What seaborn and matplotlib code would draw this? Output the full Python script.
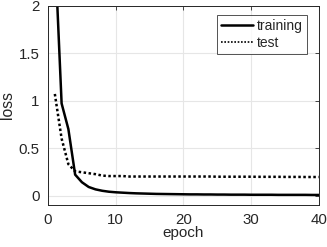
import numpy as np
import pandas as pd
import matplotlib
matplotlib.use("Agg")
import matplotlib.pyplot as plt
import seaborn as sns

# loss per epoch
epochs = list(range(1, 41))
train_loss = [2.6, 0.97, 0.70, 0.22, 0.14, 0.09, 0.065, 0.05, 0.04, 0.034,
              0.03, 0.026, 0.023, 0.021, 0.019, 0.017, 0.016, 0.015, 0.014, 0.013,
              0.012, 0.012, 0.011, 0.011, 0.010, 0.010, 0.009, 0.009, 0.009, 0.008,
              0.008, 0.008, 0.008, 0.007, 0.007, 0.007, 0.007, 0.007, 0.006, 0.006]
test_loss = [1.07, 0.60, 0.33, 0.255, 0.245, 0.235, 0.225, 0.21, 0.205, 0.205,
             0.205, 0.20, 0.20, 0.20, 0.20, 0.20, 0.20, 0.20, 0.20, 0.20,
             0.20, 0.20, 0.20, 0.20, 0.198, 0.198, 0.198, 0.198, 0.198, 0.198,
             0.197, 0.197, 0.197, 0.197, 0.196, 0.196, 0.196, 0.195, 0.195, 0.195]

sns.set_style("white")
plt.rcParams["font.family"] = ["Liberation Sans", "DejaVu Sans"]

df = pd.DataFrame({"epoch": epochs, "training": train_loss, "test": test_loss})

fig = plt.figure(figsize=(3.27, 2.47), dpi=100)
ax = fig.add_axes([0.147, 0.17, 0.828, 0.807])

sns.lineplot(data=df, x="epoch", y="training", ax=ax, color="black",
             linewidth=1.8, label="training")
sns.lineplot(data=df, x="epoch", y="test", ax=ax, color="black",
             linewidth=1.8, linestyle=(0, (1, 1)), label="test")

ax.set_xlim(0, 40)
ax.set_ylim(-0.1, 2)
ax.set_xticks([0, 10, 20, 30, 40])
ax.set_yticks([0, 0.5, 1, 1.5, 2])
ax.set_yticklabels(["0", "0.5", "1", "1.5", "2"])
ax.grid(True, color="#e6e6e6", linewidth=0.8)
ax.set_axisbelow(True)
ax.tick_params(direction="in", length=3, width=0.6, colors="#262626",
               top=True, right=True, labelsize=10.8, pad=6)
for s in ax.spines.values():
    s.set_color("#262626")
    s.set_linewidth(0.7)
ax.set_xlabel("epoch", fontsize=11, color="#262626", labelpad=-1)
ax.set_ylabel("loss", fontsize=11.3, color="#262626", labelpad=3)

leg = ax.legend(loc="upper right", bbox_to_anchor=(0.956, 0.953), frameon=True,
                fancybox=False, edgecolor="#262626", fontsize=10,
                handlelength=2.3, handletextpad=0.3, borderpad=0.3,
                labelspacing=0.2, borderaxespad=0)
leg.get_frame().set_linewidth(0.7)
leg.get_lines()[1].set_linewidth(1.2)

fig.savefig("out.png", dpi=100)
plt.close(fig)
